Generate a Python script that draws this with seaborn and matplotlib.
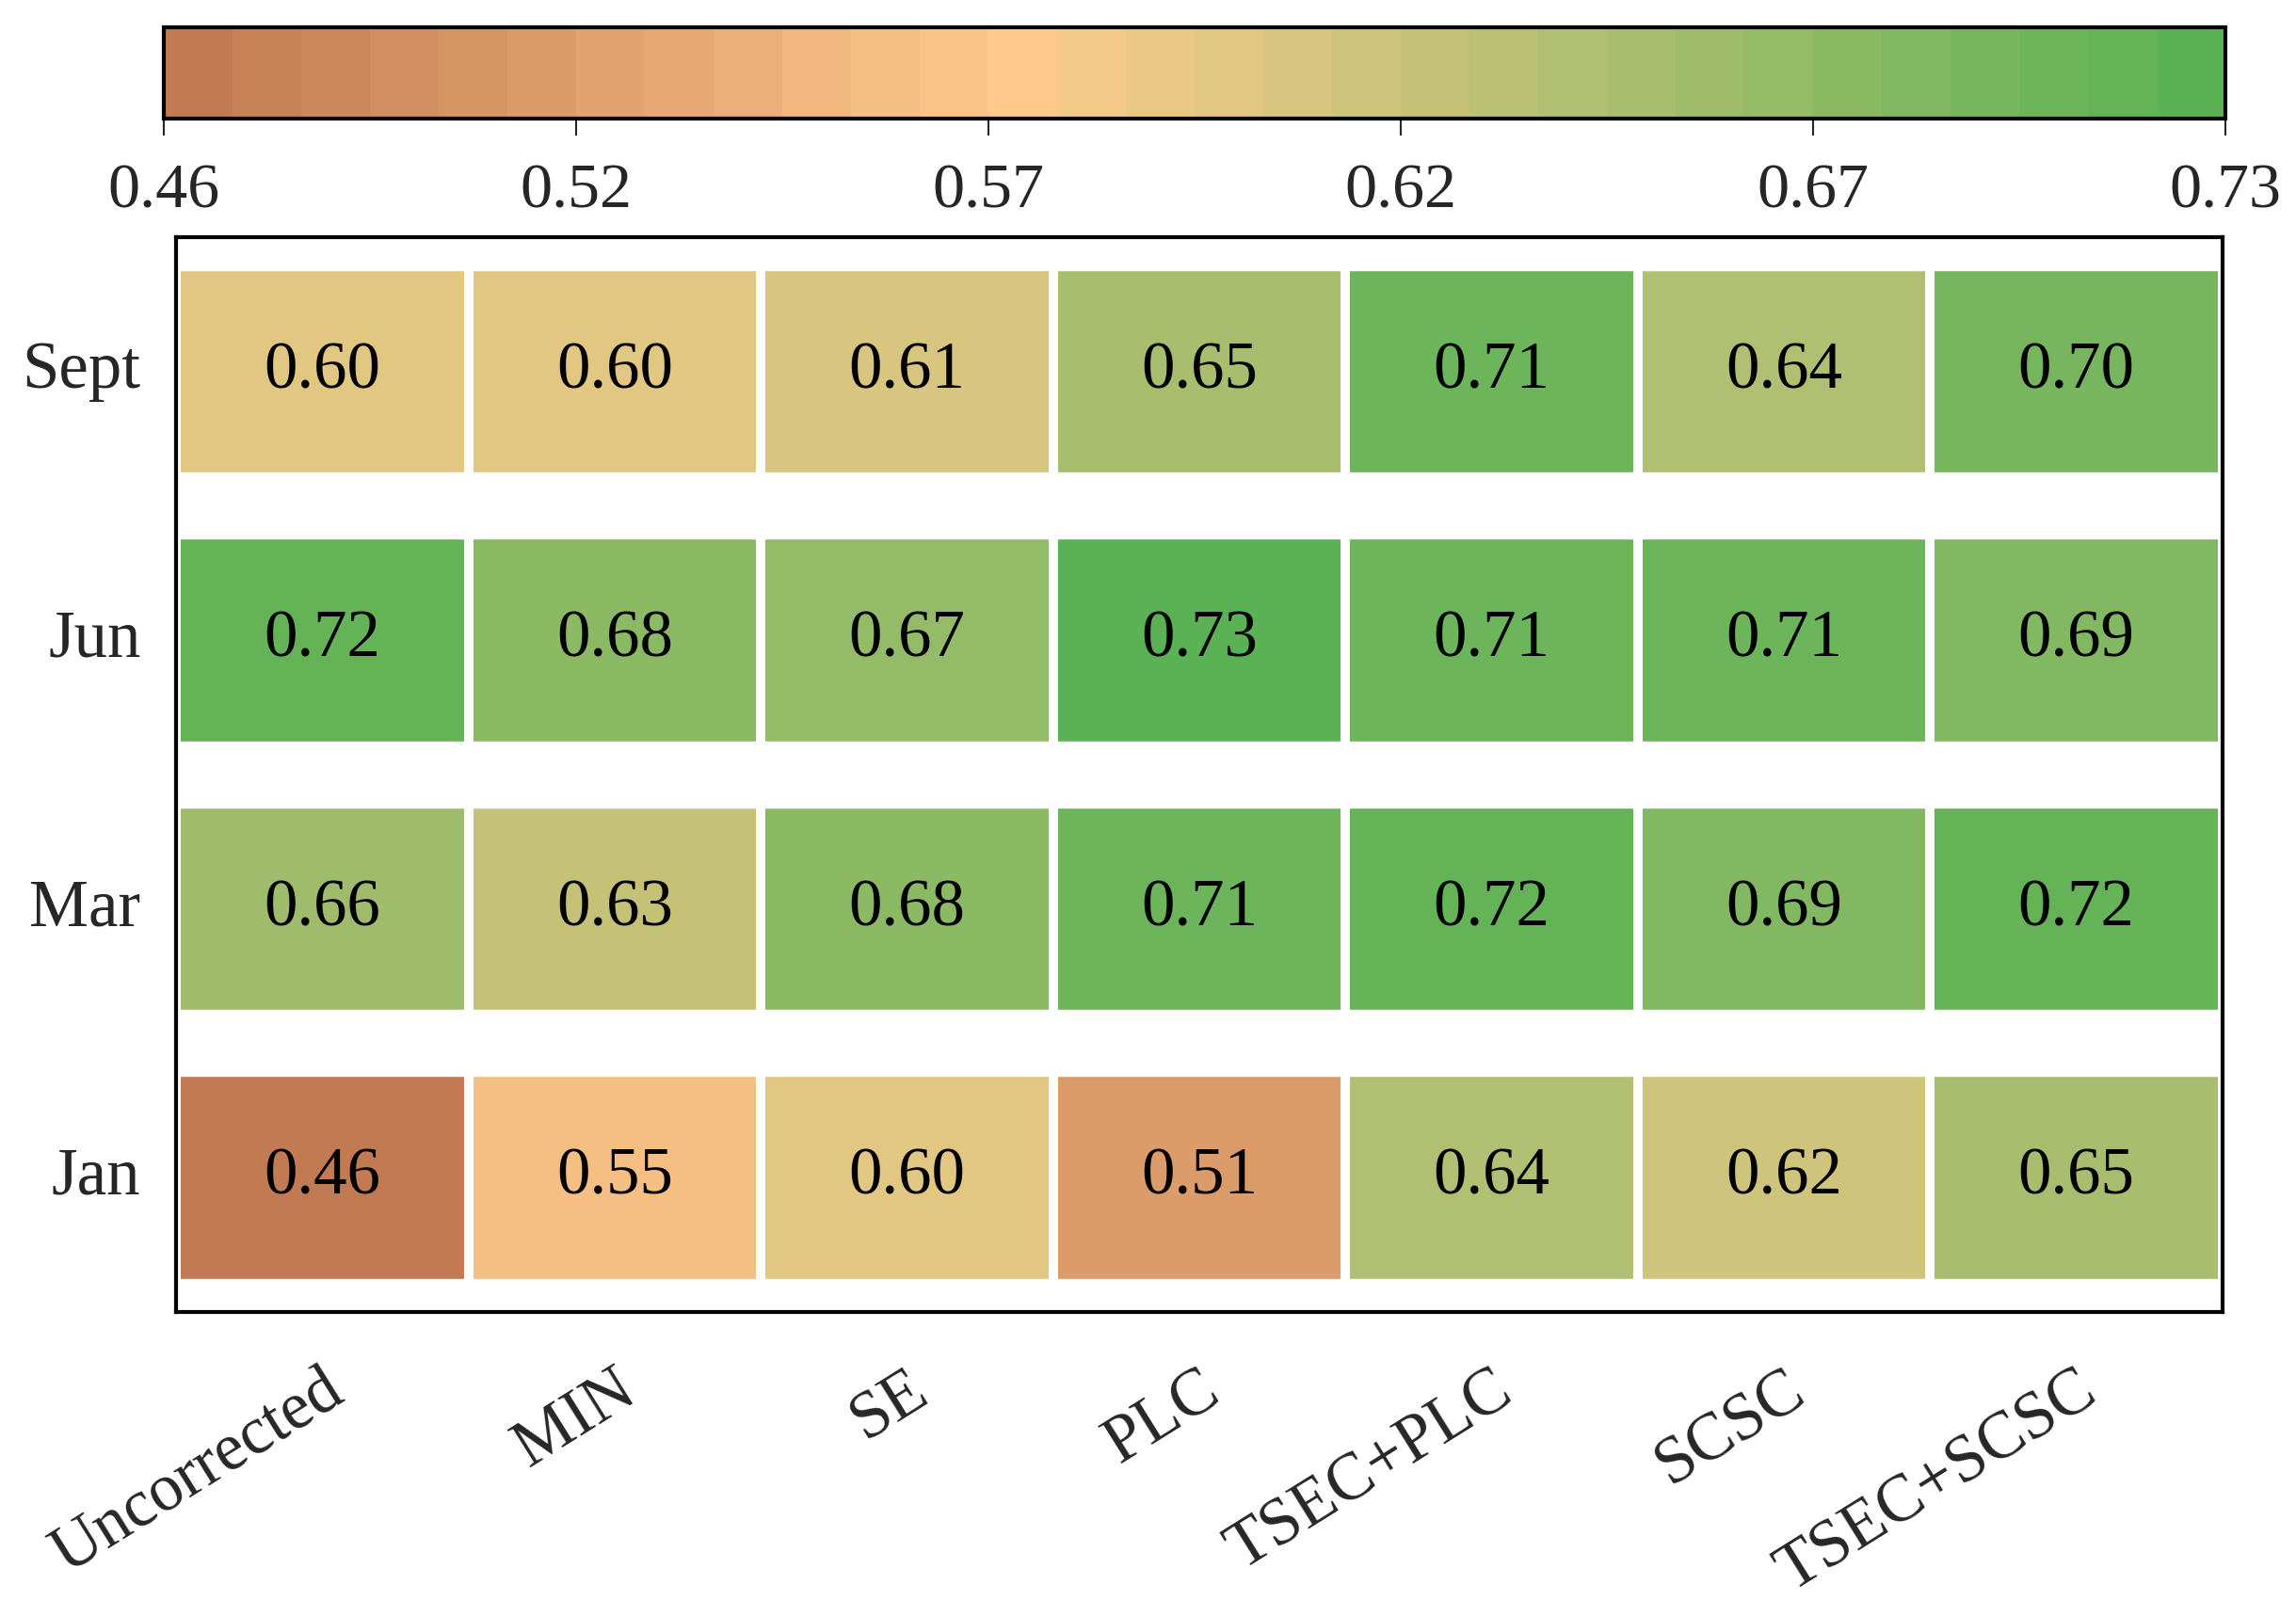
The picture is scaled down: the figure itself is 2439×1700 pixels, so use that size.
import numpy as np
import pandas as pd
import matplotlib.pyplot as plt
import matplotlib.transforms as mtransforms
from matplotlib.colors import LinearSegmentedColormap
import seaborn as sns

# --- dati ---
mesi = ["Sept", "Jun", "Mar", "Jan"]
metodi = ["Uncorrected", "MIN", "SE", "PLC", "TSEC+PLC", "SCSC", "TSEC+SCSC"]
val_sept = [0.60, 0.60, 0.61, 0.65, 0.71, 0.64, 0.70]
val_jun = [0.72, 0.68, 0.67, 0.73, 0.71, 0.71, 0.69]
val_mar = [0.66, 0.63, 0.68, 0.71, 0.72, 0.69, 0.72]
val_jan = [0.46, 0.55, 0.60, 0.51, 0.64, 0.62, 0.65]
cbar_ticks = [0.46, 0.52, 0.57, 0.62, 0.67, 0.73]

df = pd.DataFrame([val_sept, val_jun, val_mar, val_jan], index=mesi, columns=metodi)

sns.set_style("ticks")
plt.rcParams['font.family'] = ['Liberation Serif', 'DejaVu Serif']

# colormap a 30 livelli: marrone -> arancio chiaro -> verde
cmap = LinearSegmentedColormap.from_list(
    "ki", [(0.0, "#C27A52"), (12 / 29, "#FFCB8C"), (1.0, "#5AB254")], N=30)

fig = plt.figure(figsize=(24.39, 17.0), dpi=100)
ax = fig.add_axes([0.0767, 0.18, 0.8913, 0.6718])
cax = fig.add_axes([0.0713, 0.9259, 0.8979, 0.057])

sns.heatmap(df, ax=ax, cbar_ax=cax, cmap=cmap, vmin=0.46, vmax=0.73,
            annot=True, fmt=".2f", annot_kws={"fontsize": 51, "color": "black"},
            linewidths=5.8, linecolor="white",
            cbar_kws={"orientation": "horizontal"})

# separazione verticale tra le righe (bande bianche)
row_pt = ax.get_position().height * fig.get_figheight() * 72 / len(mesi)
for i in range(len(mesi) + 1):
    ax.axhline(i, color="white", lw=0.25 * row_pt, zorder=2)

for sp in ax.spines.values():
    sp.set_visible(True)
    sp.set_color("black")
    sp.set_linewidth(3)

ax.tick_params(axis="both", direction="in", length=13, width=2.5, color="black")
ax.tick_params(axis="y", pad=27, labelsize=51)
ax.tick_params(axis="x", pad=36, labelsize=51)
ax.set_yticklabels(mesi, rotation=0)
ax.set_xticklabels(metodi, rotation=32, ha="right")
offset = mtransforms.ScaledTranslation(0.34, 0, fig.dpi_scale_trans)
for lab in ax.get_xticklabels():
    lab.set_transform(lab.get_transform() + offset)
ax.set_xlabel("")
ax.set_ylabel("")

# barra dei colori in alto
cbar = ax.collections[0].colorbar
cbar.outline.set_visible(True)
cbar.outline.set_linewidth(3)
cbar.outline.set_edgecolor("black")
cbar.set_ticks(np.linspace(0.46, 0.73, len(cbar_ticks)))
cbar.set_ticklabels([f"{t:.2f}" for t in cbar_ticks])
cax.xaxis.set_ticks_position("bottom")
cax.tick_params(axis="x", direction="out", length=13, width=1.5, pad=21, labelsize=49)

plt.savefig("out.png", dpi=100)
plt.close(fig)
